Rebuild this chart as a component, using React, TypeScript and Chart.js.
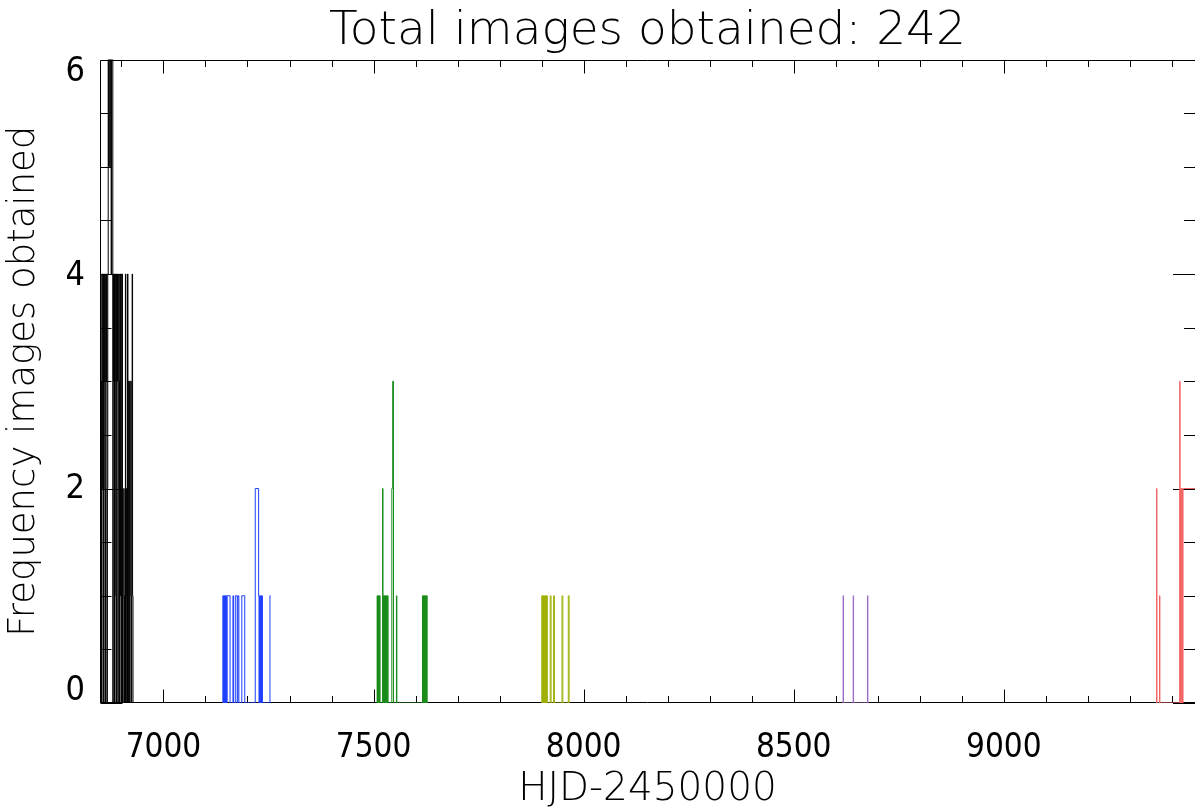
import { useEffect, useRef } from "react";
import { Chart, registerables } from "chart.js";

Chart.register(...registerables);

// ---- text ----
const TITLE = "Total images obtained: 242";
const X_TITLE = "HJD-2450000";
const Y_TITLE = "Frequency images obtained";

// ---- axes ----
const X_MIN = 6849;
const X_MAX = 9455;
const Y_MIN = 0;
const Y_MAX = 6;
const X_TICKS = [7000, 7500, 8000, 8500, 9000];
const Y_TICKS = [0, 2, 4, 6];
const X_MINOR_STEP = 100;
const X_MAJOR_STEP = 500;
const Y_MINOR_STEP = 0.5;
const Y_MAJOR_STEP = 2;

// ---- histogram points (HJD-2450000, images per night) ----
const BLACK_DAYS = [
  6849, 6850, 6851, 6852, 6853, 6855, 6856, 6857, 6858, 6859, 6860, 6861, 6862, 6863, 6864, 6865,
  6866, 6867, 6868, 6869, 6870, 6871, 6872, 6873, 6874, 6875, 6876, 6877, 6878, 6879, 6880, 6881,
  6882, 6883, 6884, 6885, 6886, 6887, 6888, 6889, 6890, 6891, 6892, 6893, 6894, 6895, 6896, 6897,
  6898, 6899, 6900, 6901, 6902, 6903, 6905, 6906, 6907, 6908, 6909, 6910, 6911, 6912, 6913, 6914,
  6915, 6916, 6917, 6918, 6919, 6920, 6921, 6922, 6923, 6924, 6925, 6926, 6927, 6928,
];
const BLACK_COUNTS = [
  0, 2, 4, 3, 0, 4, 2, 4, 0, 3, 4, 2, 0, 4, 3, 4,
  0, 2, 4, 6, 5, 6, 6, 5, 6, 6, 4, 6, 6, 6, 0, 4,
  3, 4, 0, 3, 4, 1, 0, 4, 3, 4, 0, 2, 4, 3, 0, 4,
  1, 4, 0, 2, 4, 0, 1, 2, 0, 1, 0, 4, 0, 2, 1, 0,
  4, 3, 0, 3, 3, 0, 3, 3, 1, 0, 3, 4, 1, 0,
];

const BLUE_DAYS = [
  7141, 7142, 7143, 7144, 7145, 7146, 7147, 7148, 7149, 7150, 7151, 7152, 7165, 7166, 7167, 7175,
  7176, 7178, 7179, 7180, 7193, 7194, 7218, 7219, 7226, 7227, 7228, 7229, 7230, 7231, 7232, 7233,
  7234, 7235, 7236, 7237, 7252, 7255,
];
const BLUE_COUNTS = [
  0, 1, 0, 1, 0, 1, 0, 1, 0, 1, 0, 1, 0, 1, 0, 1,
  0, 1, 1, 0, 1, 0, 0, 2, 2, 1, 0, 1, 0, 1, 0, 1,
  0, 1, 0, 0, 0, 1,
];

const GREEN_DAYS = [
  7508, 7509, 7510, 7511, 7512, 7513, 7514, 7515, 7516, 7521, 7522, 7523, 7524, 7525, 7526, 7527,
  7528, 7529, 7530, 7531, 7532, 7533, 7534, 7535, 7536, 7543, 7544, 7545, 7546, 7547, 7548, 7554,
  7555, 7556, 7616, 7617, 7618, 7619, 7620, 7621, 7622, 7623, 7624, 7625, 7626, 7627, 7628,
];
const GREEN_COUNTS = [
  0, 1, 0, 1, 0, 1, 0, 1, 0, 0, 2, 0, 1, 0, 1, 0,
  1, 0, 1, 0, 1, 0, 1, 0, 0, 0, 2, 2, 3, 3, 0, 0,
  1, 0, 0, 1, 0, 1, 0, 1, 0, 1, 0, 1, 0, 1, 0,
];

const OLIVE_DAYS = [
  7900, 7901, 7902, 7903, 7904, 7905, 7906, 7907, 7908, 7909, 7910, 7911, 7912, 7913, 7914, 7920,
  7921, 7922, 7923, 7928, 7929, 7930, 7931, 7948, 7949, 7950, 7951, 7963, 7964, 7965, 7966,
];
const OLIVE_COUNTS = [
  0, 1, 0, 1, 0, 1, 0, 1, 0, 1, 0, 1, 0, 1, 0, 0,
  1, 1, 0, 0, 1, 1, 0, 0, 1, 1, 0, 0, 1, 1, 0,
];

const PURPLE_DAYS = [8617, 8618, 8619, 8641, 8642, 8643, 8675, 8676, 8677];
const PURPLE_COUNTS = [0, 1, 0, 0, 1, 0, 0, 1, 0];

const RED_DAYS = [
  9363, 9364, 9365, 9370, 9371, 9372, 9418, 9419, 9420, 9421, 9422, 9423, 9424, 9425, 9426, 9427,
  9428, 9455, 9456,
];
const RED_COUNTS = [0, 2, 0, 0, 1, 0, 0, 3, 0, 2, 0, 2, 0, 2, 0, 2, 2, 2, 0];

const GROUPS = [
  { days: BLACK_DAYS, counts: BLACK_COUNTS, color: "#000000" },
  { days: BLUE_DAYS, counts: BLUE_COUNTS, color: "#1f3fff" },
  { days: GREEN_DAYS, counts: GREEN_COUNTS, color: "#198c19" },
  { days: OLIVE_DAYS, counts: OLIVE_COUNTS, color: "#9fb000" },
  { days: PURPLE_DAYS, counts: PURPLE_COUNTS, color: "#9a6cc6" },
  { days: RED_DAYS, counts: RED_COUNTS, color: "#f26565" },
];

const LABEL_FONT = "'Liberation Sans Narrow', 'DejaVu Sans Condensed', 'DejaVu Sans', sans-serif";
const TITLE_FONT = "'DejaVu Sans', sans-serif";

// vertical nudge of y tick labels (px, + = down), as in the reference
const Y_LABEL_SHIFT: Record<string, number> = { "0": -12, "2": 1, "4": 2, "6": 13 };

const idlAxes = {
  id: "idlAxes",
  beforeDatasetsDraw(chart: any) {
    const { ctx, chartArea: a, scales } = chart;
    const xs = scales.x;
    const ys = scales.y;
    const L = Math.round(a.left) + 0.5;
    const R = a.right;
    const T = Math.round(a.top) + 0.5;
    const B = Math.round(a.bottom) - 0.5;
    ctx.save();
    ctx.strokeStyle = "#000";
    ctx.lineWidth = 1;
    ctx.beginPath();
    ctx.moveTo(L, T);
    ctx.lineTo(R, T);
    ctx.moveTo(L, T);
    ctx.lineTo(L, B);
    ctx.moveTo(L, B);
    ctx.lineTo(R, B);
    const xStart = Math.ceil(X_MIN / X_MINOR_STEP) * X_MINOR_STEP;
    for (let v = xStart; v <= X_MAX; v += X_MINOR_STEP) {
      const p = Math.round(xs.getPixelForValue(v)) + 0.5;
      const len = v % X_MAJOR_STEP === 0 ? 13 : 6.5;
      ctx.moveTo(p, B);
      ctx.lineTo(p, B - len);
      ctx.moveTo(p, T);
      ctx.lineTo(p, T + len);
    }
    for (let v = Y_MIN; v <= Y_MAX + 1e-9; v += Y_MINOR_STEP) {
      const p = Math.round(ys.getPixelForValue(v)) + 0.5;
      const len = Math.abs(v % Y_MAJOR_STEP) < 1e-9 ? 22 : 11;
      ctx.moveTo(L, p);
      ctx.lineTo(L + len, p);
      ctx.moveTo(R, p);
      ctx.lineTo(R - len, p);
    }
    ctx.stroke();
    ctx.restore();
  },
};

export default function App() {
  const ref = useRef<HTMLCanvasElement | null>(null);

  useEffect(() => {
    document.body.style.margin = "0";
    const canvas = ref.current;
    if (!canvas) return;
    Chart.defaults.color = "#000";
    const chart = new Chart(canvas, {
      type: "line",
      data: {
        datasets: GROUPS.map((g) => ({
          data: g.days.map((d, i) => ({ x: d, y: g.counts[i] })),
          borderColor: g.color,
          borderWidth: 1,
          pointRadius: 0,
          fill: false,
          stepped: "middle" as const,
          tension: 0,
        })),
      },
      options: {
        responsive: false,
        animation: false,
        devicePixelRatio: 1,
        layout: { padding: { left: 0, right: 5, top: 0, bottom: 0 } },
        plugins: {
          legend: { display: false },
          tooltip: { enabled: false },
          title: {
            display: true,
            text: TITLE,
            fullSize: false,
            color: "#000",
            font: { family: TITLE_FONT, size: 47, weight: "200" as any, lineHeight: 1.2 },
            padding: { top: 3.1, bottom: 0 },
          },
        },
        scales: {
          x: {
            type: "linear",
            min: X_MIN,
            max: X_MAX,
            grid: { display: false, drawTicks: false },
            border: { display: false },
            afterBuildTicks: (s: any) => {
              s.ticks = X_TICKS.map((v) => ({ value: v }));
            },
            afterFit: (s: any) => {
              s.height = 107;
            },
            ticks: {
              autoSkip: false,
              maxRotation: 0,
              padding: 26,
              color: "#000",
              font: { family: LABEL_FONT, size: 33 },
              callback: (v: any) => String(v),
            },
            title: {
              display: true,
              text: X_TITLE,
              color: "#000",
              font: { family: TITLE_FONT, size: 39, weight: "200" as any, lineHeight: 1 },
              padding: { top: 0, bottom: 1 },
            },
          },
          y: {
            type: "linear",
            min: Y_MIN,
            max: Y_MAX,
            grid: { display: false, drawTicks: false },
            border: { display: false },
            afterBuildTicks: (s: any) => {
              s.ticks = Y_TICKS.map((v) => ({ value: v }));
            },
            afterFit: (s: any) => {
              s.width = 100;
            },
            ticks: {
              padding: 15,
              color: "#000",
              font: (c: any) => {
                const shift = Math.abs(Y_LABEL_SHIFT[String(c.tick?.value)] ?? 0);
                return { family: LABEL_FONT, size: 34, lineHeight: `${Math.max(2 * shift, 1)}px` } as any;
              },
              callback: (v: any) => {
                const s = String(v);
                const shift = Y_LABEL_SHIFT[s] ?? 0;
                return shift >= 0 ? ["", s] : [s, ""];
              },
            },
            title: {
              display: true,
              text: Y_TITLE,
              color: "#000",
              font: { family: TITLE_FONT, size: 37, weight: "200" as any, lineHeight: 1.2 },
              padding: { top: 2, bottom: 0 },
            },
          },
        },
      },
      plugins: [idlAxes],
    });
    return () => chart.destroy();
  }, []);

  return (
    <div style={{ width: 1200, height: 810 }}>
      <canvas ref={ref} width={1200} height={810} style={{ display: "block" }} />
    </div>
  );
}
